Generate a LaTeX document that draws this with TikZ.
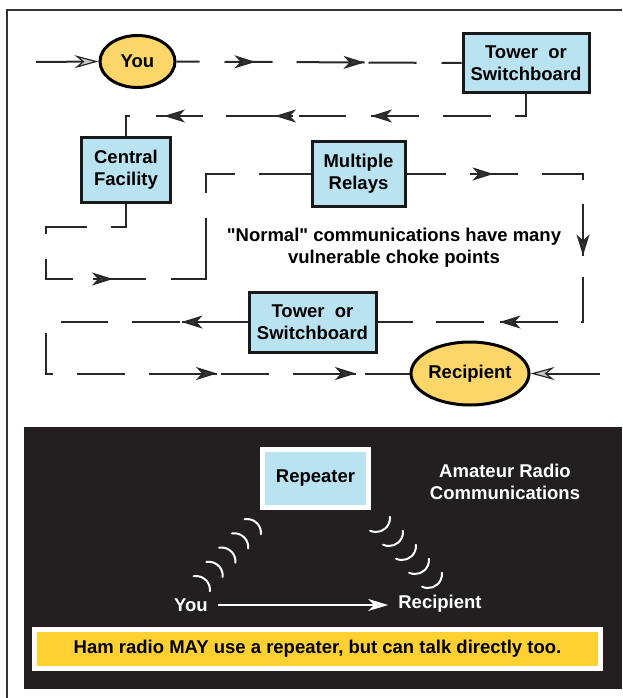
\documentclass[tikz,border=0pt]{standalone}
\usepackage{fontspec}
\setmainfont{Liberation Sans}[Ligatures=TeXOff]
\usetikzlibrary{arrows.meta,shapes.geometric,decorations.markings}
\definecolor{ovalY}{RGB}{252,214,104}
\definecolor{boxB}{RGB}{186,227,242}
\definecolor{lineC}{RGB}{40,40,40}
\definecolor{darkbg}{RGB}{35,31,32}
\definecolor{banY}{RGB}{254,208,50}
\definecolor{tipC}{RGB}{55,55,55}
\tikzset{
  midtip/.tip={Stealth[length=21pt,width=13pt,inset=6pt,fill=tipC]},
  opentip/.tip={Stealth[length=24pt,width=13pt,inset=8pt,fill=gray!45,line width=1.2pt]},
  lbl/.style={font=\bfseries\fontsize{18.5}{22}\selectfont,align=center,text=black},
  ovalnode/.style={ellipse,draw=black,line width=3pt,fill=ovalY,inner sep=0pt,lbl},
  bluebox/.style={rectangle,draw=black!90,line width=3pt,fill=boxB,inner sep=0pt,lbl},
  route/.style={draw=lineC,line width=2pt},
  wave/.style={draw=white,line width=2pt,line cap=round},
}
\begin{document}
\begin{tikzpicture}[x=1pt,y=-1pt]
\useasboundingbox (0,0) rectangle (622,698);
\fill[white] (0,0) rectangle (622,698);
% outer frame
\draw[draw=black!80,line width=2pt] (7,698) -- (7,10) -- (622,10);

% ---- top section nodes
\node[ovalnode,minimum width=75pt,minimum height=52pt] (you) at (137.5,61.5) {You};
\node[bluebox,minimum width=126pt,minimum height=59pt] (tw1) at (526,63) {Tower\ \ or\\Switchboard};
\node[bluebox,minimum width=89pt,minimum height=65pt] (cf) at (126,170) {Central\\Facility};
\node[bluebox,minimum width=93pt,minimum height=65pt] (mr) at (358.5,174) {Multiple\\Relays};
\node[bluebox,minimum width=127pt,minimum height=60pt] (tw2) at (312.5,322) {Tower\ \ or\\Switchboard};
\node[ovalnode,minimum width=118pt,minimum height=63pt] (rec) at (470,373.5) {Recipient};
\node[lbl] (note) at (394,248) {"Normal" communications have many\\vulnerable choke points};

\coordinate (in0) at (36,62);
\coordinate (in1) at (600,373.5);

% incoming arrows
\draw[route,-{opentip}] (in0) -- (you.west);
\draw[route,-{opentip}] (in1) -- (rec.east);

% route 1
\draw[route,dash pattern=on 23pt off 25pt on 48pt off 24pt on 68pt off 4pt on 48pt off 25pt on 22pt off 10pt,
  postaction={decorate},decoration={markings,
    mark=at position 79pt with {\arrow{midtip}},
    mark=at position 188pt with {\arrow{midtip}}}]
  (you.east) -- (tw1.west);
% route 2
\draw[route,dash pattern=on 33pt off 24pt on 48pt off 24pt on 48pt off 25pt on 47pt off 6pt on 67pt off 23pt on 47pt off 26pt on 28pt off 10pt,
  postaction={decorate},decoration={markings,
    mark=at position 177pt with {\arrow{midtip}},
    mark=at position 273pt with {\arrow{midtip}},
    mark=at position 384pt with {\arrow{midtip}}}]
  (tw1.south) |- (126,116) -- (cf.north);
% route 3
\draw[route,dash pattern=on 38pt off 24pt on 48pt off 25pt on 47pt off 20pt on 53pt off 25pt on 96pt off 25pt on 48pt off 24pt on 56pt off 10pt,
  postaction={decorate},decoration={markings,
    mark=at position 222pt with {\arrow{midtip}}}]
  (cf.south) -- (126,227) -- (46,227) -- (46,279) -- (206,279) -- (206,174) -- (mr.west);
% route 4
\draw[route,dash pattern=on 39pt off 24pt on 48pt off 24pt on 47pt off 24pt on 52pt off 21pt on 48pt off 23pt on 58pt off 16pt on 48pt off 23pt on 39pt off 10pt,
  postaction={decorate},decoration={markings,
    mark=at position 87pt with {\arrow{midtip}},
    mark=at position 258pt with {\arrow{midtip}},
    mark=at position 408pt with {\arrow{midtip}}}]
  (mr.east) -- (583,174) -- (583,322) -- (tw2.east);
% route 5
\draw[route,dash pattern=on 66pt off 2pt on 48pt off 24pt on 47pt off 25pt on 48pt off 24pt on 48pt off 24pt on 68pt off 4pt on 48pt off 24pt on 63pt off 9pt on 47pt off 10pt,
  postaction={decorate},decoration={markings,
    mark=at position 66pt with {\arrow{midtip}},
    mark=at position 424pt with {\arrow{midtip}},
    mark=at position 563pt with {\arrow{midtip}}}]
  (tw2.west) -- (46,322) -- (46,373.5) -- (rec.west);

% ---- bottom section
\fill[darkbg] (24,427) rectangle (622,689);
\node[rectangle,draw=white,line width=5pt,fill=boxB,minimum width=106pt,minimum height=58pt,inner sep=0pt,lbl] (rep) at (315.5,478.5) {Repeater};
\node[lbl,text=white] (title) at (505,482) {Amateur Radio\\Communications};
\node[lbl,text=white,inner sep=5pt] (ryou) at (191,605) {You};
\node[lbl,text=white,inner sep=5pt] (rrec) at (440,604) {Recipient};
\draw[draw=white,line width=2pt,-{Stealth[length=20pt,width=12pt,inset=6pt,fill=white!80!gray]},shorten <=5pt,shorten >=5pt] (ryou.east) -- (rrec.west |- ryou.east);
\node[rectangle,draw=white,line width=5pt,fill=banY,minimum width=566pt,minimum height=38.5pt,inner sep=0pt,lbl] (ban) at (317.5,649) {Ham radio MAY use a repeater, but can talk directly too.};

% radio waves
\foreach \k in {0,...,4}{
  \draw[wave] (196+12.75*\k,590-14.25*\k) ++(100:14pt) arc[start angle=100,end angle=-5,radius=14pt];
  \draw[wave] (376+13*\k,518+14*\k) ++(245:14pt) arc[start angle=245,end angle=365,radius=14pt];
}
\end{tikzpicture}
\end{document}
